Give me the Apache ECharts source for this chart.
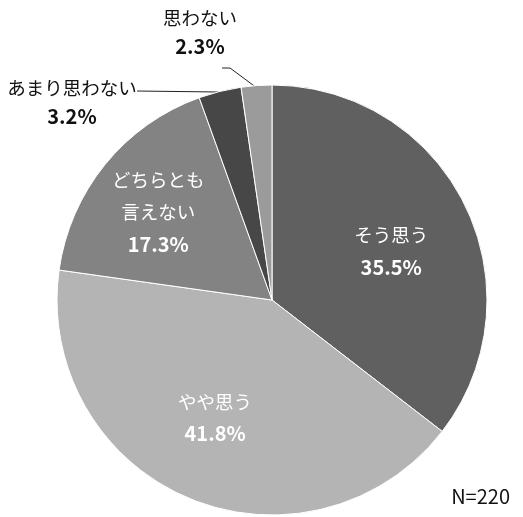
<!DOCTYPE html>
<html>
<head>
<meta charset="utf-8">
<script src="https://cdn.jsdelivr.net/npm/echarts@6/dist/echarts.min.js"></script>
<style>
  html, body { margin: 0; padding: 0; background: #fff; }
  #main { width: 523px; height: 517px; }
</style>
</head>
<body>
<div id="main"></div>
<script>
// 回答の分類と割合
var categories = ['そう思う', 'やや思う', 'どちらとも\n言えない', 'あまり思わない', '思わない'];
var values = [35.5, 41.8, 17.3, 3.2, 2.3];
var colors = ['#606060', '#b4b4b4', '#838383', '#474747', '#9b9b9b'];
var sampleText = 'N=220';

var chart = echarts.init(document.getElementById('main'));

// 内側ラベルの微調整
var insideOffsets = [[20, 0], [-14, 16], [-28, -18]];

var pieData = categories.map(function (name, i) {
  var item = { name: name, value: values[i], itemStyle: { color: colors[i] } };
  if (i < 3) {
    item.label = {
      position: 'inside',
      color: '#fff',
      offset: insideOffsets[i],
      lineHeight: 32
    };
    item.labelLine = { show: false };
  } else {
    item.label = {
      position: 'outside',
      color: '#111',
      lineHeight: 29
    };
    item.labelLine = { show: true, lineStyle: { color: '#222', width: 1 } };
  }
  return item;
});

var option = {
  animation: false,
  textStyle: { fontFamily: '"Noto Sans CJK JP", "Noto Sans", sans-serif' },
  title: {
    text: sampleText,
    right: 8,
    bottom: 6,
    textStyle: { fontSize: 20, fontWeight: 'normal', color: '#111', fontFamily: '"Noto Sans CJK JP", sans-serif' }
  },
  series: [{
    type: 'pie',
    center: [272, 300],
    radius: 215,
    startAngle: 90,
    clockwise: true,
    itemStyle: { borderColor: '#fff', borderWidth: 1 },
    label: {
      show: true,
      fontSize: 18.5,
      overflow: 'none',
      formatter: function (p) {
        return p.name + '\n{v|' + p.value.toFixed(1) + '%}';
      },
      rich: {
        v: { fontSize: 20, fontWeight: 'bold' }
      }
    },
    labelLayout: function (params) {
      if (params.dataIndex === 3) {
        return {
          x: 72, y: 102, align: 'center', verticalAlign: 'middle',
          labelLinePoints: [[137, 91], [218, 92], [222, 94]]
        };
      }
      if (params.dataIndex === 4) {
        return {
          x: 200, y: 32, align: 'center', verticalAlign: 'middle',
          labelLinePoints: [[222, 68], [230, 68], [257, 88]]
        };
      }
    },
    data: pieData
  }]
};

chart.setOption(option);
</script>
</body>
</html>
